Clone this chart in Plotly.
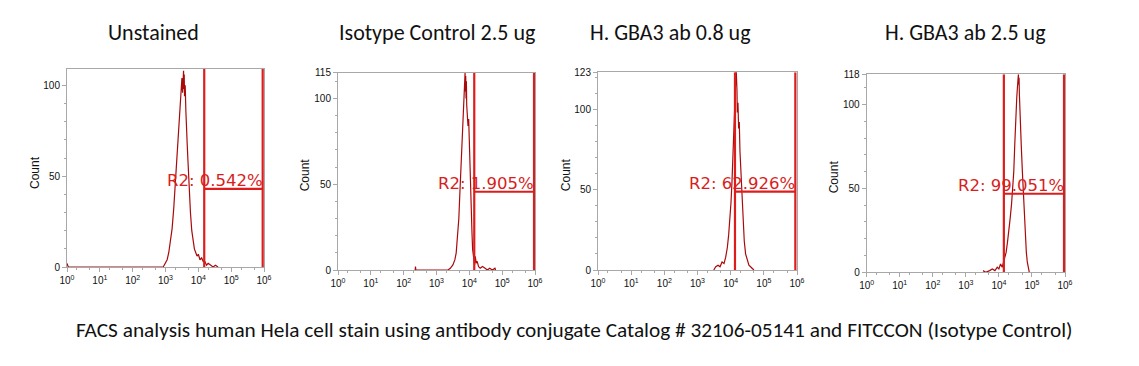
import plotly.graph_objects as go

# page body has an 8px margin: lay out in window pixels, then shift by it
OFF = 8
WIN_W, WIN_H = 1139, 366
W, H = WIN_W - OFF, WIN_H - OFF

titles = ["Unstained", "Isotype Control 2.5 ug", "H. GBA3 ab 0.8 ug", "H. GBA3 ab 2.5 ug"]
caption = "FACS analysis human Hela cell stain using antibody conjugate Catalog # 32106-05141 and FITCCON (Isotype Control)"

# histogram outlines: log10(FL intensity) and count
h1_log = [0.0, 0.02, 0.04, 2.93, 3.0, 3.05, 3.1, 3.15, 3.2, 3.25, 3.3, 3.34, 3.38, 3.42, 3.45, 3.48, 3.5, 3.52, 3.53,
          3.54, 3.55, 3.56, 3.57, 3.58, 3.6, 3.62, 3.64, 3.66, 3.68, 3.7, 3.73, 3.76, 3.8, 3.84, 3.88, 3.92,
          3.96, 4.0, 4.05, 4.1, 4.15, 4.2, 4.25, 4.3, 4.38, 4.45, 4.52, 4.6]
h1_cnt = [2, 0, 0, 0, 2, 4, 8, 14, 21, 32, 46, 58, 70, 82, 90, 98, 104, 96, 106,
          100, 108, 98, 106, 94, 100, 86, 80, 68, 60, 50, 40, 30, 20, 14, 10, 8,
          6, 7, 4, 5, 3, 3, 1, 2, 1, 0, 1, 0]

h2_log = [2.35, 2.36, 2.37, 3.35, 3.42, 3.5, 3.56, 3.6, 3.64, 3.68, 3.71, 3.74, 3.77, 3.8, 3.82, 3.84, 3.86, 3.87,
          3.88, 3.89, 3.9, 3.91, 3.92, 3.94, 3.96, 3.98, 4.0, 4.02, 4.04, 4.06, 4.08, 4.1, 4.13, 4.16, 4.18, 4.21,
          4.24, 4.28, 4.33, 4.4, 4.48, 4.55, 4.62, 4.7, 4.78, 4.8]
h2_cnt = [0, 2, 0, 0, 1, 3, 6, 10, 18, 30, 44, 58, 74, 88, 98, 106, 112, 115,
          104, 113, 100, 110, 96, 92, 84, 88, 72, 66, 48, 38, 22, 12, 6, 3, 8, 4,
          5, 2, 1, 2, 1, 0, 1, 0, 1, 0]

h3_log = [3.49, 3.55, 3.62, 3.68, 3.74, 3.8, 3.85, 3.9, 3.94, 3.98, 4.01, 4.04, 4.07, 4.1, 4.12, 4.14, 4.15, 4.16,
          4.17, 4.18, 4.19, 4.2, 4.22, 4.24, 4.26, 4.28, 4.3, 4.32, 4.35, 4.38, 4.41, 4.45, 4.5, 4.55, 4.6, 4.66, 4.7]
h3_cnt = [0, 2, 3, 2, 5, 4, 8, 14, 22, 32, 42, 55, 72, 90, 106, 123, 118, 123,
          123, 120, 112, 98, 104, 88, 92, 74, 66, 52, 40, 28, 18, 10, 6, 3, 2, 1, 0]

h4_log = [3.52, 3.6, 3.72, 3.8, 3.88, 3.95, 4.0, 4.05, 4.1, 4.14, 4.18, 4.22, 4.26, 4.3, 4.34, 4.38, 4.42, 4.45,
          4.48, 4.5, 4.52, 4.54, 4.56, 4.58, 4.59, 4.6, 4.61, 4.62, 4.64, 4.66, 4.68, 4.71, 4.74, 4.77, 4.8, 4.83,
          4.86, 4.89, 4.92]
h4_cnt = [1, 0, 1, 2, 1, 3, 2, 5, 3, 6, 8, 12, 18, 24, 32, 40, 50, 60,
          76, 88, 98, 104, 110, 114, 118, 112, 116, 106, 98, 88, 74, 60, 46, 32, 20, 12,
          6, 2, 0]

hist_log = [h1_log, h2_log, h3_log, h4_log]
hist_cnt = [h1_cnt, h2_cnt, h3_cnt, h4_cnt]

y_max = [109, 115, 123, 118]
y_ticks = [[0, 50, 100], [0, 50, 100, 115], [0, 50, 100, 123], [0, 50, 100, 118]]

gate_lo = [4.18, 4.15, 4.13, 4.15]
gate_hi = [5.96, 5.97, 5.95, 5.97]
gate_level = [43, 45.6, 48.7, 46.8]
gate_text = ["R2: 0.542%", "R2: 1.905%", "R2: 62.926%", "R2: 99.051%"]

x_decades = [0, 1, 2, 3, 4, 5, 6]
x_ticktext = ["10<sup>%d</sup>" % d for d in x_decades]

# layout geometry (window pixels)
boxes = [(67, 264, 69, 267), (338, 535, 72.7, 270), (598, 797, 72.3, 270), (866.7, 1065, 74.3, 272.3)]
title_x = [153, 437, 670, 965]
count_x = [35, 305, 566, 834]


def px(x):
    return (x - OFF) / W


def py(y):
    return 1 - (y - OFF) / H


HIST = "#a80a0a"
GATE = "#dd1c1c"
AX = "#a8a8a8"

fig = go.Figure()
annotations = []
for i in range(4):
    n = "" if i == 0 else str(i + 1)
    xa, ya = "x" + n, "y" + n
    x0, x1, yt, yb = boxes[i]
    fig.add_trace(go.Scatter(
        x=[10 ** v for v in hist_log[i]], y=hist_cnt[i], mode="lines",
        line=dict(color=HIST, width=1.2), xaxis=xa, yaxis=ya, showlegend=False,
        hoverinfo="skip"))
    lo, hi, lv = 10 ** gate_lo[i], 10 ** gate_hi[i], gate_level[i]
    fig.add_trace(go.Scatter(
        x=[lo, lo, None, hi, hi, None, lo, hi],
        y=[0, y_max[i], None, 0, y_max[i], None, lv, lv], mode="lines",
        line=dict(color=GATE, width=2.2), xaxis=xa, yaxis=ya, showlegend=False,
        hoverinfo="skip"))
    axis_common = dict(showline=True, linecolor=AX, linewidth=1, mirror=True, automargin=False,
                       showgrid=False, zeroline=False, ticks="outside", tickcolor=AX,
                       tickfont=dict(family="Liberation Sans, Arial", size=10, color="#111"))
    fig.layout["xaxis" + n] = dict(
        axis_common, type="log", range=[0, 6], tickvals=[10 ** d for d in x_decades],
        ticktext=x_ticktext, ticklen=4,
        minor=dict(ticks="outside", ticklen=2, tickcolor=AX, showgrid=False),
        domain=[px(x0), px(x1)], anchor=ya)
    fig.layout["yaxis" + n] = dict(
        axis_common, range=[0, y_max[i]], tickvals=y_ticks[i], ticklen=4,
        minor=dict(ticks="outside", ticklen=2, tickcolor=AX, dtick=10),
        domain=[py(yb), py(yt)], anchor=xa)
    annotations.append(dict(
        x=gate_hi[i], y=lv, xref=xa, yref=ya, text=gate_text[i], showarrow=False,
        xanchor="right", yanchor="bottom", xshift=2, yshift=-3,
        font=dict(family="DejaVu Sans, Verdana", size=16.5, color="#d81e1e")))
    annotations.append(dict(
        x=px(title_x[i]), y=py(32), xref="paper", yref="paper", text=titles[i],
        showarrow=False, xanchor="center", yanchor="middle",
        font=dict(family="Carlito, Calibri, Open Sans", size=22, color="#111")))
    annotations.append(dict(
        x=px(count_x[i]), y=py((yt + yb) / 2 + 4), xref="paper", yref="paper", text="Count",
        showarrow=False, textangle=-90, xanchor="center", yanchor="middle",
        font=dict(family="Liberation Sans, Arial", size=12, color="#111")))

annotations.append(dict(
    x=px(574), y=py(330), xref="paper", yref="paper", text=caption, showarrow=False,
    xanchor="center", yanchor="middle",
    font=dict(family="Carlito, Calibri, Open Sans", size=21.3, color="#111")))

fig.update_layout(width=W, height=H, margin=dict(l=0, r=0, t=0, b=0),
                  paper_bgcolor="white", plot_bgcolor="white", annotations=annotations)
fig.write_html("out.html")
